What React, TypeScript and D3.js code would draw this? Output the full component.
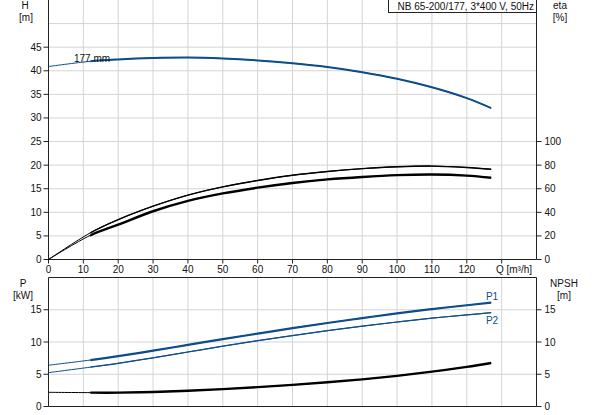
import React from "react";
import * as d3 from "d3";

const qPoints = [0, 12, 20, 30, 40, 50, 60, 70, 80, 90, 100, 110, 120, 127];
const headH = [40.9, 42.0, 42.4, 42.7, 42.8, 42.6, 42.2, 41.6, 40.8, 39.7, 38.3, 36.5, 34.2, 32.1];
const etaPump = [0, 22.6, 33.8, 45.2, 54.6, 61.6, 67.0, 71.4, 74.6, 77.0, 78.6, 79.2, 78.0, 76.5];
const etaTotal = [0, 20.5, 29.5, 40.9, 49.7, 56.0, 60.9, 64.9, 67.9, 70.0, 71.5, 72.0, 71.1, 69.3];
const powerP1 = [6.4, 7.2, 7.8, 8.65, 9.55, 10.45, 11.3, 12.15, 12.95, 13.7, 14.45, 15.1, 15.7, 16.1];
const powerP2 = [5.25, 6.1, 6.7, 7.55, 8.45, 9.35, 10.2, 11.0, 11.75, 12.45, 13.1, 13.7, 14.2, 14.55];
const npsh = [2.2, 2.15, 2.15, 2.25, 2.45, 2.7, 3.0, 3.35, 3.75, 4.2, 4.75, 5.4, 6.15, 6.75];

const xTicks = [0, 10, 20, 30, 40, 50, 60, 70, 80, 90, 100, 110, 120];
const hTicks = [0, 5, 10, 15, 20, 25, 30, 35, 40, 45];
const etaTicks = [0, 20, 40, 60, 80, 100];
const pTicks = [0, 5, 10, 15];
const npshTicks = [0, 5, 10, 15];

const title = "NB 65-200/177, 3*400 V, 50Hz";
const impellerLabel = "177 mm";

const BLUE = "#0d4d8c";
const GRID = "#d4d4d4";
const AXIS = "#222";
const FONT = "'Liberation Sans', Arial, sans-serif";
const SPLIT = 12;

export default function App() {
  const left = 48.5;
  const right = 536.5;
  const x = d3.scaleLinear().domain([0, 140]).range([left, right]);
  const yH = d3.scaleLinear().domain([0, 55]).range([259.5, 0]);
  const yEta = d3.scaleLinear().domain([0, 220]).range([259.5, 0]);
  const yP = d3.scaleLinear().domain([0, 20]).range([406.5, 277.5]);

  const mk = (vals: number[], y: d3.ScaleLinear<number, number>) => {
    const pts = qPoints.map((q, i) => [q, vals[i]] as [number, number]);
    return (
      d3
        .line<[number, number]>()
        .x((d) => x(d[0]))
        .y((d) => y(d[1]))
        .curve(d3.curveCatmullRom.alpha(0.5))(pts) || ""
    );
  };

  const curve = (
    vals: number[],
    y: d3.ScaleLinear<number, number>,
    color: string,
    thinW: number,
    thickW: number,
    key: string
  ) => {
    const d = mk(vals, y);
    return (
      <g key={key}>
        <path d={d} fill="none" stroke={color} strokeWidth={thinW} />
        <path d={d} fill="none" stroke={color} strokeWidth={thickW} clipPath="url(#thickClip)" />
      </g>
    );
  };

  const gridX = d3.range(10, 140, 10);
  const gridH = d3.range(5, 55, 5);
  const gridP = [5, 10, 15];

  return (
    <svg
      width={593}
      height={415}
      style={{ position: "absolute", left: 0, top: 0, background: "#fff" }}
      fontFamily={FONT}
      fontSize={10}
    >
      <defs>
        <clipPath id="thickClip">
          <rect x={x(SPLIT)} y={0} width={600} height={415} />
        </clipPath>
      </defs>
      <rect x={0} y={0} width={593} height={415} fill="#fff" />
      {/* top panel grid */}
      {gridX.map((q) => (
        <line key={"gx" + q} x1={x(q)} x2={x(q)} y1={0} y2={yH(0)} stroke={GRID} strokeWidth={1} />
      ))}
      {gridH.map((h) => (
        <line key={"gh" + h} x1={left} x2={right} y1={yH(h)} y2={yH(h)} stroke={GRID} strokeWidth={1} />
      ))}
      {/* bottom panel grid */}
      {gridX.map((q) => (
        <line key={"bx" + q} x1={x(q)} x2={x(q)} y1={yP(20)} y2={yP(0)} stroke={GRID} strokeWidth={1} />
      ))}
      {gridP.map((p) => (
        <line key={"bp" + p} x1={left} x2={right} y1={yP(p)} y2={yP(p)} stroke={GRID} strokeWidth={1} />
      ))}

      {/* top panel axes */}
      <line x1={left} x2={left} y1={0} y2={yH(0)} stroke={AXIS} strokeWidth={1} />
      <line x1={right} x2={right} y1={0} y2={yH(0)} stroke={AXIS} strokeWidth={1} />
      <line x1={left} x2={right} y1={yH(0)} y2={yH(0)} stroke={AXIS} strokeWidth={1} />
      {hTicks.map((h) => (
        <g key={"ht" + h}>
          <line x1={left - 5} x2={left} y1={yH(h)} y2={yH(h)} stroke={AXIS} />
          <text x={left - 7} y={yH(h) + 3.5} textAnchor="end" fill="#111">
            {h}
          </text>
        </g>
      ))}
      {etaTicks.map((e) => (
        <g key={"et" + e}>
          <line x1={right} x2={right + 5} y1={yEta(e)} y2={yEta(e)} stroke={AXIS} />
          <text x={right + 8} y={yEta(e) + 3.5} textAnchor="start" fill="#111">
            {e}
          </text>
        </g>
      ))}
      {xTicks.map((q) => (
        <g key={"xt" + q}>
          <line x1={x(q)} x2={x(q)} y1={yH(0)} y2={yH(0) + 4} stroke={AXIS} />
          <text x={x(q)} y={yH(0) + 13.5} textAnchor="middle" fill="#111">
            {q}
          </text>
        </g>
      ))}
      <line x1={x(130)} x2={x(130)} y1={yH(0)} y2={yH(0) + 4} stroke={AXIS} />
      <text x={514} y={yH(0) + 13.5} textAnchor="middle" fill="#111">
        Q [m³/h]
      </text>

      {/* bottom panel axes */}
      <line x1={left} x2={left} y1={yP(20)} y2={yP(0)} stroke={AXIS} strokeWidth={1} />
      <line x1={right} x2={right} y1={yP(20)} y2={yP(0)} stroke={AXIS} strokeWidth={1} />
      <line x1={left} x2={right} y1={yP(0)} y2={yP(0)} stroke={AXIS} strokeWidth={1} />
      <line x1={left} x2={right} y1={yP(20)} y2={yP(20)} stroke={AXIS} strokeWidth={1} />
      {pTicks.map((p) => (
        <g key={"pt" + p}>
          <line x1={left - 5} x2={left} y1={yP(p)} y2={yP(p)} stroke={AXIS} />
          <text x={left - 7} y={yP(p) + 3.5} textAnchor="end" fill="#111">
            {p}
          </text>
        </g>
      ))}
      {npshTicks.map((p) => (
        <g key={"nt" + p}>
          <line x1={right} x2={right + 5} y1={yP(p)} y2={yP(p)} stroke={AXIS} />
          <text x={right + 8} y={yP(p) + 3.5} textAnchor="start" fill="#111">
            {p}
          </text>
        </g>
      ))}

      {/* axis titles */}
      <text x={25} y={9} textAnchor="middle" fill="#111">H</text>
      <text x={26} y={21} textAnchor="middle" fill="#111">[m]</text>
      <text x={560} y={9} textAnchor="middle" fill="#111">eta</text>
      <text x={560} y={21} textAnchor="middle" fill="#111">[%]</text>
      <text x={23} y={287} textAnchor="middle" fill="#111">P</text>
      <text x={23} y={299} textAnchor="middle" fill="#111">[kW]</text>
      <text x={564} y={287} textAnchor="middle" fill="#111">NPSH</text>
      <text x={564} y={299} textAnchor="middle" fill="#111">[m]</text>

      {/* curves */}
      {curve(headH, yH, BLUE, 1, 2, "h")}
      {curve(etaPump, yEta, "#000", 1, 1.4, "ep")}
      {curve(etaTotal, yEta, "#000", 1, 2.4, "et")}
      {curve(powerP1, yP, BLUE, 1, 2.2, "p1")}
      {curve(powerP2, yP, BLUE, 1, 1.2, "p2")}
      {curve(npsh, yP, "#000", 1, 2.4, "n")}

      <text x={74} y={61.5} fill="#111">{impellerLabel}</text>
      <text x={492} y={299.5} textAnchor="middle" fill={BLUE}>P1</text>
      <text x={492} y={324} textAnchor="middle" fill={BLUE}>P2</text>

      {/* title box */}
      <rect x={388.5} y={-1} width={148} height={13.5} fill="#fff" stroke="#222" strokeWidth={1} />
      <text x={534} y={9.5} textAnchor="end" fill="#111">
        {title}
      </text>
    </svg>
  );
}
